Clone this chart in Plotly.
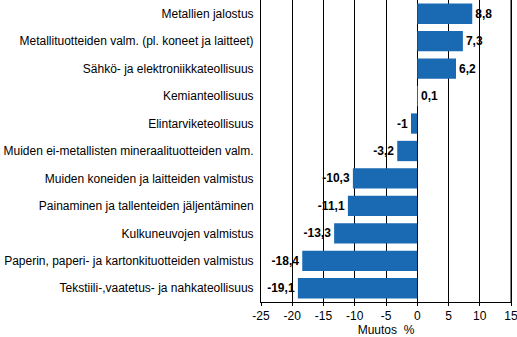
import plotly.graph_objects as go

categories = [
    "Metallien jalostus",
    "Metallituotteiden valm. (pl. koneet ja laitteet)",
    "Sähkö- ja elektroniikkateollisuus",
    "Kemianteollisuus",
    "Elintarviketeollisuus",
    "Muiden ei-metallisten mineraalituotteiden valm.",
    "Muiden koneiden ja laitteiden valmistus",
    "Painaminen ja tallenteiden jäljentäminen",
    "Kulkuneuvojen valmistus",
    "Paperin, paperi- ja kartonkituotteiden valmistus",
    "Tekstiili-,vaatetus- ja nahkateollisuus",
]
values = [8.8, 7.3, 6.2, 0.1, -1, -3.2, -10.3, -11.1, -13.3, -18.4, -19.1]

tick_vals = [-25, -20, -15, -10, -5, 0, 5, 10, 15]
tick_text = ["-25", "-20", "-15", "-10", "-5", "0", "5", "10", "15"]

labels = [f"{v:g}".replace(".", ",") for v in values]

fig = go.Figure(
    go.Bar(
        x=values,
        y=categories,
        orientation="h",
        marker=dict(color="#1a6ab3", line=dict(width=0)),
        width=0.74,
        text=labels,
        textposition="outside",
        textfont=dict(family="Liberation Sans Narrow, Liberation Sans, Arial", size=12, color="black", weight="bold"),
        cliponaxis=False,
    )
)

# right-hand frame line along the plot edge
fig.add_shape(
    type="line", xref="paper", yref="paper",
    x0=1, x1=1, y0=0, y1=1,
    line=dict(color="black", width=1),
    layer="above",
)

fig.update_layout(
    width=517,
    height=337,
    margin=dict(l=261, r=6, t=0, b=35, autoexpand=False),
    paper_bgcolor="white",
    plot_bgcolor="white",
    showlegend=False,
    font=dict(family="Liberation Sans, Arial", size=12, color="black"),
    xaxis=dict(
        range=[-25, 15],
        automargin=False,
        tickvals=tick_vals,
        ticktext=tick_text,
        ticklabeloverflow="allow",
        showgrid=True,
        gridcolor="black",
        gridwidth=1,
        zeroline=True,
        zerolinecolor="black",
        zerolinewidth=1,
        showline=True,
        linecolor="black",
        linewidth=1,
        ticks="outside",
        ticklen=3,
        tickcolor="black",
        tickfont=dict(size=12),
        title=dict(text="Muutos  %", font=dict(size=12), standoff=3),
    ),
    yaxis=dict(
        autorange="reversed",
        automargin=False,
        showline=True,
        mirror=True,
        linecolor="black",
        linewidth=1,
        ticks="",
        ticklabelstandoff=4,
        tickfont=dict(size=12),
        showgrid=False,
    ),
)

fig.write_html("out.html", config={"displayModeBar": False})
